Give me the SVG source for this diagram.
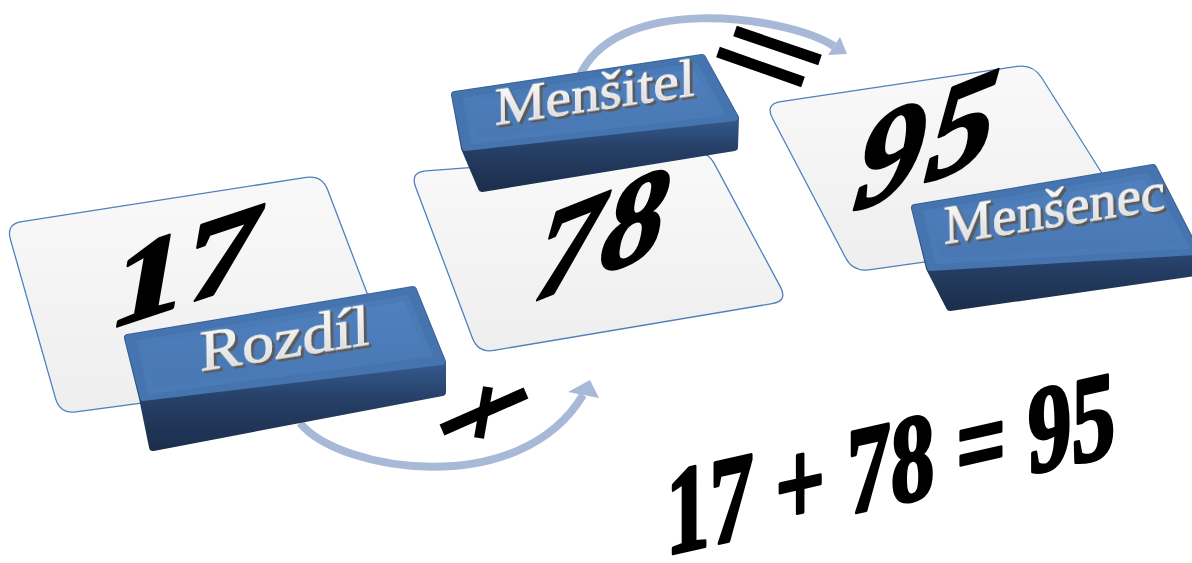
<svg xmlns="http://www.w3.org/2000/svg" width="1192" height="563" viewBox="0 0 1192 563">
<defs>
  <linearGradient id="cardFill" x1="0" y1="0" x2="0" y2="1">
    <stop offset="0" stop-color="#f9f9f9"/>
    <stop offset="1" stop-color="#eeeeee"/>
  </linearGradient>
  <linearGradient id="topFace" x1="0" y1="0" x2="0" y2="1">
    <stop offset="0" stop-color="#5080be"/>
    <stop offset="1" stop-color="#4877b3"/>
  </linearGradient>
  <linearGradient id="frontFace" x1="0" y1="0" x2="0" y2="1">
    <stop offset="0" stop-color="#3c669e"/>
    <stop offset="0.45" stop-color="#355c90"/>
    <stop offset="0.7" stop-color="#263f66"/>
    <stop offset="1" stop-color="#1c2f4d"/>
  </linearGradient>
  <linearGradient id="silver" x1="0" y1="0" x2="0" y2="1">
    <stop offset="0" stop-color="#ffffff"/>
    <stop offset="1" stop-color="#d6d6d6"/>
  </linearGradient>
  <filter id="emboss" x="-10%" y="-30%" width="130%" height="170%">
    <feOffset in="SourceAlpha" dx="1" dy="1" result="o1"/>
    <feOffset in="SourceAlpha" dx="2" dy="2" result="o2"/>
    <feOffset in="SourceAlpha" dx="3" dy="2.6" result="o3"/>
    <feMerge result="m"><feMergeNode in="o1"/><feMergeNode in="o2"/><feMergeNode in="o3"/></feMerge>
    <feFlood flood-color="#5a5a5a"/>
    <feComposite in2="m" operator="in" result="sh"/>
    <feMerge><feMergeNode in="sh"/><feMergeNode in="SourceGraphic"/></feMerge>
  </filter>
  <style>
    .card { fill:url(#cardFill); stroke:#4f81bd; stroke-width:1.3; }
    .num { font-family:"Liberation Serif","Times New Roman",serif; font-weight:bold; fill:#000; stroke:#000; stroke-width:3; stroke-linejoin:round; }
    .ital { font-style:italic; }
    .lbl { font-family:"Liberation Serif","Times New Roman",serif; fill:url(#silver); stroke:#ffffff; stroke-width:0.6; filter:url(#emboss); }
    .arc { fill:none; stroke:#a8b8d7; stroke-width:8; }
    .head { fill:#a8b8d7; }
    .sil { fill:url(#frontFace); stroke:url(#frontFace); stroke-width:8; stroke-linejoin:round; }
    .bev { fill:#4574af; stroke:#4574af; stroke-width:6; stroke-linejoin:round; }
    .top { fill:url(#topFace); stroke:#4b7bb7; stroke-width:6; stroke-linejoin:round; }
    .sym { fill:none; stroke:#000; stroke-linecap:butt; }
    .eq { font-family:"Liberation Serif","Times New Roman",serif; font-weight:bold; fill:#000; stroke:#000; stroke-width:3.5; stroke-linejoin:round; }
  </style>
</defs>

<g id="card-17">
  <path class="card" d="M21.8,221.6 L306.2,177.4 Q322,175 327.7,189.9 L390.3,354.1 Q396,369 380.1,371.1 L75.9,411.9 Q60,414 55.6,398.6 L10.4,239.4 Q6,224 21.8,221.6 Z"/>
  <text class="num" font-size="120" transform="matrix(1.233,-0.41,-0.17,0.988,106,330)">17</text>
</g>
<g id="card-78">
  <path class="card" d="M426,170.8 L691,151.2 Q707,150 714.6,164.1 L780.4,286.9 Q788,301 772.2,303.6 L493.8,350.4 Q478,353 472.4,338 L415.6,187 Q410,172 426,170.8 Z"/>
  <text class="num ital" font-size="128" letter-spacing="2" transform="matrix(1,-0.4,-0.12,1,532,302)">78</text>
</g>
<g id="card-95">
  <path class="card" d="M780.8,101.6 L1017.2,66.4 Q1033,64 1041.5,77.5 L1130.5,218.5 Q1139,232 1123.2,234.2 L868.8,269.8 Q853,272 845.6,257.8 L772.4,118.2 Q765,104 780.8,101.6 Z"/>
  <text class="num ital" font-size="135" letter-spacing="4" transform="matrix(1,-0.4,-0.12,1,852,212)">95</text>
</g>

<g id="connectors">
  <path class="arc" d="M300,423 C340,472 520,500 583,395"/>
  <polygon class="head" points="590,380 568,392 599,398"/>
  <path class="arc" d="M578,80 C612,-8 785,15 834,46"/>
  <polygon class="head" points="847,54 828,55 840,37"/>
</g>

<g id="btn-rozdil">
  <polygon class="sil" points="128,338 413,290 442,362 442,392 153,447 143,398"/>
  <polygon class="bev" points="128,338 413,290 442,362 143,398"/>
  <polygon class="top" points="140,343 406,298 429,354 151,391"/>
  <text class="lbl" font-size="56" textLength="172" lengthAdjust="spacingAndGlyphs" transform="translate(200,371) rotate(-9) skewX(-8)">Rozdíl</text>
</g>
<g id="btn-mensitel">
  <polygon class="sil" points="455,95 702,58 735,118 734,147 482,188 465,148"/>
  <polygon class="bev" points="455,95 702,58 735,118 465,148"/>
  <polygon class="top" points="466,100 695,66 722,113 474,141"/>
  <text class="lbl" font-size="52" textLength="202" lengthAdjust="spacingAndGlyphs" transform="translate(495,125) rotate(-8.5) skewX(-8)">Menšitel</text>
</g>
<g id="btn-mensenec">
  <polygon class="sil" points="915,208 1153,168 1196,252 1196,272 950,307 930,268"/>
  <polygon class="bev" points="915,208 1153,168 1196,252 930,268"/>
  <polygon class="top" points="926,213 1146,176 1186,246 938,261"/>
  <text class="lbl" font-size="54" textLength="224" lengthAdjust="spacingAndGlyphs" transform="translate(944,244) rotate(-9) skewX(-8)">Menšenec</text>
</g>

<g id="plus">
  <line class="sym" stroke-width="12" x1="442" y1="430" x2="526" y2="393"/>
  <line class="sym" stroke-width="10" x1="488" y1="387" x2="479" y2="438"/>
</g>
<g id="equals">
  <line class="sym" stroke-width="11" x1="735" y1="31" x2="820" y2="60"/>
  <line class="sym" stroke-width="11" x1="718" y1="52" x2="803" y2="82"/>
</g>

<g id="equation">
  <text class="eq" font-size="124" transform="translate(666,555) skewY(-12.6) scale(0.705,1)">17 + 78 = 95</text>
</g>
</svg>
